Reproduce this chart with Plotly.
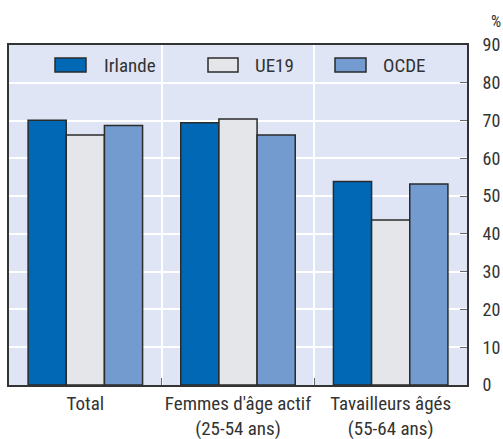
import plotly.graph_objects as go

categories = ["Total", "Femmes d'âge actif<br>(25-54 ans)", "Tavailleurs âgés<br>(55-64 ans)"]
series_names = ["Irlande", "UE19", "OCDE"]
irlande = [70.1, 69.4, 53.9]
ue19 = [66.2, 70.4, 43.7]
ocde = [68.7, 66.2, 53.2]
y_ticks = [0, 10, 20, 30, 40, 50, 60, 70, 80, 90]

colors = ["#0068B5", "#E5E6E9", "#739BD0"]
FONT = "Liberation Sans Narrow, Roboto Condensed, Arial Narrow, Liberation Sans, sans-serif"
FS = 18
FS_CAT = 19

W, H = 503, 439
L, R, T, B = 9, W - 467, 45, H - 385
pw, ph = W - L - R, H - T - B


def px(x):
    return (x - L) / pw


def py(y):
    return 1 - (y - T) / ph


fig = go.Figure()
for name, vals, col in zip(series_names, [irlande, ue19, ocde], colors):
    fig.add_trace(go.Bar(
        x=categories, y=vals, name=name,
        marker=dict(color=col, line=dict(color="#2b2b2b", width=1.5)),
        showlegend=False,
    ))

# manual legend (wide swatches like the reference)
leg_x = [(55, 86, 102), (208, 238, 253), (335, 366, 381)]
for (x0, x1, tx), name, col in zip(leg_x, series_names, colors):
    fig.add_shape(type="rect", xref="paper", yref="paper",
                  x0=px(x0), x1=px(x1), y0=py(72), y1=py(58),
                  fillcolor=col, line=dict(color="#2b2b2b", width=1.5))
    fig.add_annotation(xref="paper", yref="paper", x=px(tx), y=py(65),
                       text=name, showarrow=False, xanchor="left", yanchor="middle",
                       font=dict(size=FS_CAT, color="#333333", family=FONT))

fig.add_annotation(xref="paper", yref="paper", x=px(503), y=py(21),
                   text="%", showarrow=False, xanchor="right", yanchor="middle",
                   font=dict(size=FS - 2, color="#333333", family=FONT))

fig.update_layout(
    width=W, height=H,
    margin=dict(l=L, r=R, t=T, b=B, autoexpand=False),
    paper_bgcolor="white", plot_bgcolor="#DFE5F5",
    barmode="group", bargap=0.25, bargroupgap=0,
    font=dict(family=FONT, size=FS, color="#333333"),
    xaxis=dict(
        type="category", tickson="boundaries", ticks="inside", ticklen=7,
        tickangle=0, automargin=False,
        tickcolor="#666666", showgrid=True, gridcolor="white", gridwidth=1.5,
        showline=True, linecolor="#333333", linewidth=2, mirror=True,
        tickfont=dict(size=FS_CAT, family=FONT, color="#333333"),
    ),
    yaxis=dict(
        side="right", range=[0, 90], tickvals=y_ticks, automargin=False,
        ticks="inside", ticklen=7, tickcolor="#666666",
        ticklabelstandoff=10,
        showgrid=True, gridcolor="white", gridwidth=1.5,
        showline=True, linecolor="#333333", linewidth=2, mirror=True,
        zeroline=False,
        tickfont=dict(size=FS, family=FONT, color="#333333"),
    ),
)

fig.write_html(
    "out.html",
    config={"displayModeBar": False},
    post_script="document.body.style.margin='0';document.body.style.overflow='hidden';",
)
